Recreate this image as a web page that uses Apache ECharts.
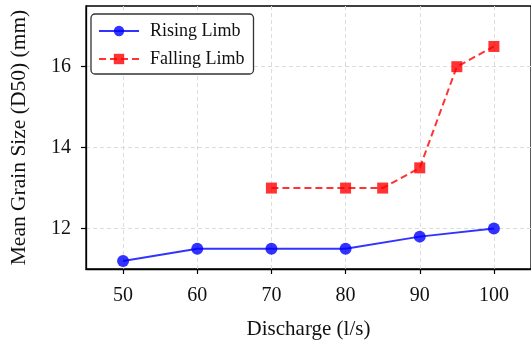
<!DOCTYPE html>
<html>
<head>
<meta charset="utf-8">
<script src="https://cdn.jsdelivr.net/npm/echarts@6/dist/echarts.min.js"></script>
<style>
  html, body { margin: 0; padding: 0; background: #fff; }
  #chart { width: 531px; height: 345px; }
</style>
</head>
<body>
<div id="chart"></div>
<script>
// Discharge (l/s) and mean grain size D50 (mm) for the two hydrograph limbs
const risingDischarge = [50, 60, 70, 80, 90, 100];
const risingD50 = [11.2, 11.5, 11.5, 11.5, 11.8, 12.0];
const fallingDischarge = [70, 80, 85, 90, 95, 100];
const fallingD50 = [13.0, 13.0, 13.0, 13.5, 16.0, 16.5];

const xTicks = [50, 60, 70, 80, 90, 100];
const yTicks = [12, 14, 16];

const serif = "'Liberation Serif', 'DejaVu Serif', serif";
const pairs = (xs, ys) => xs.map((x, i) => [x, ys[i]]);

const chart = echarts.init(document.getElementById('chart'), null, { renderer: 'canvas' });

const gridLine = { show: true, lineStyle: { color: '#dcdcdc', width: 1, type: [4, 3] } };

chart.setOption({
  animation: false,
  backgroundColor: '#fff',
  grid: {
    left: 84, top: 6, width: 450, height: 263,
    show: true, borderColor: '#000', borderWidth: 1.3, backgroundColor: 'transparent'
  },
  legend: {
    orient: 'vertical',
    left: 91, top: 14,
    padding: [8, 9, 6, 7],
    itemGap: 10,
    itemWidth: 40,
    itemHeight: 13,
    backgroundColor: '#fff',
    borderColor: '#333',
    borderWidth: 1.3,
    borderRadius: 4,
    textStyle: { fontFamily: serif, fontSize: 18, color: '#111', padding: [0, 0, 0, 6] },
    data: ['Rising Limb', 'Falling Limb']
  },
  xAxis: {
    type: 'value',
    min: 45, max: 105,
    name: 'Discharge (l/s)',
    nameLocation: 'middle',
    nameGap: 50,
    nameTextStyle: { fontFamily: serif, fontSize: 21, color: '#111' },
    axisLine: { show: true, onZero: false, lineStyle: { color: '#000', width: 1.3 } },
    axisTick: { show: true, length: 5, lineStyle: { color: '#000', width: 1.2 }, customValues: xTicks },
    axisLabel: { fontFamily: serif, fontSize: 20, color: '#111', margin: 17, customValues: xTicks },
    splitLine: gridLine
  },
  yAxis: {
    type: 'value',
    min: 11, max: 17.5,
    name: 'Mean Grain Size (D50) (mm)',
    nameLocation: 'middle',
    nameGap: 56,
    nameTextStyle: { fontFamily: serif, fontSize: 21.5, color: '#111' },
    axisLine: { show: true, onZero: false, lineStyle: { color: '#000', width: 1.3 } },
    axisTick: { show: true, length: 5, lineStyle: { color: '#000', width: 1.2 }, customValues: yTicks },
    axisLabel: { fontFamily: serif, fontSize: 20, color: '#111', margin: 15, customValues: yTicks },
    splitLine: gridLine
  },
  series: [
    {
      name: 'Rising Limb',
      type: 'line',
      data: pairs(risingDischarge, risingD50),
      symbol: 'circle',
      symbolSize: 12,
      itemStyle: { color: 'rgba(0,0,255,0.8)', borderWidth: 0 },
      lineStyle: { color: 'rgba(0,0,255,0.8)', width: 2 },
      z: 3
    },
    {
      name: 'Falling Limb',
      type: 'line',
      data: pairs(fallingDischarge, fallingD50),
      symbol: 'rect',
      symbolSize: 11,
      itemStyle: { color: 'rgba(255,0,0,0.8)', borderWidth: 0 },
      lineStyle: { color: 'rgba(255,0,0,0.8)', width: 2, type: [7, 4] },
      z: 3
    }
  ]
});
</script>
</body>
</html>
